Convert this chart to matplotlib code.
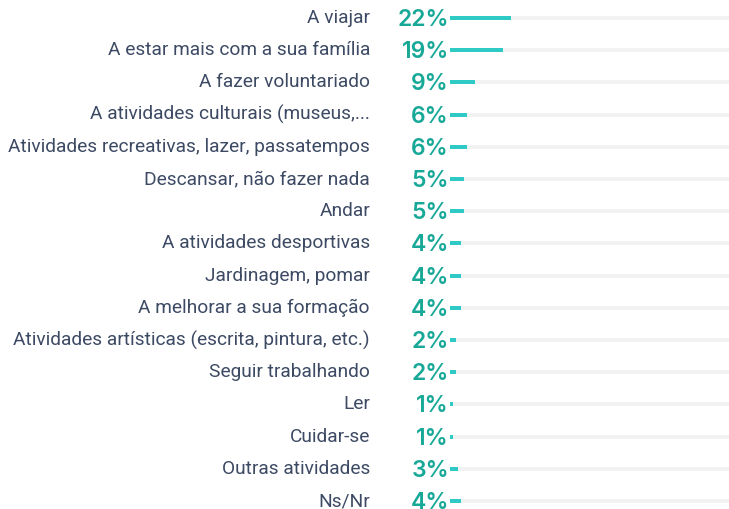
import matplotlib
matplotlib.use('Agg')
import matplotlib.pyplot as plt
import matplotlib.transforms as mtransforms

# atividades e percentagens
categorias = [
    'A viajar',
    'A estar mais com a sua família',
    'A fazer voluntariado',
    'A atividades culturais (museus,...',
    'Atividades recreativas, lazer, passatempos',
    'Descansar, não fazer nada',
    'Andar',
    'A atividades desportivas',
    'Jardinagem, pomar',
    'A melhorar a sua formação',
    'Atividades artísticas (escrita, pintura, etc.)',
    'Seguir trabalhando',
    'Ler',
    'Cuidar-se',
    'Outras atividades',
    'Ns/Nr',
]
valores = [22, 19, 9, 6, 6, 5, 5, 4, 4, 4, 2, 2, 1, 1, 3, 4]

cor_barra = '#2fc9c6'
cor_pct = '#17a898'
cor_texto = '#3d4a64'
cor_fundo = '#f2f2f2'

fig = plt.figure(figsize=(7.29, 5.09), dpi=100)
ax = fig.add_axes([450 / 729, 0, 279 / 729, 1])

n = len(categorias)
ys = list(range(n))
ax.barh(ys, [100] * n, height=0.13, color=cor_fundo, left=0)
ax.barh(ys, valores, height=0.13, color=cor_barra, left=0)

ax.set_xlim(0, 100)
# primeira linha a 18px do topo, 32.2px entre linhas
passo = 32.2
ax.set_ylim((509 - 18) / passo, -18 / passo)
ax.axis('off')

trans = mtransforms.blended_transform_factory(fig.transFigure, ax.transData)
for y, cat, v in zip(ys, categorias, valores):
    ax.text(370 / 729, y, cat, transform=trans, ha='right', va='center',
            fontsize=13.8, color=cor_texto, family='Roboto', fontweight='normal')
    ax.text(449 / 729, y + 0.06, f'{v}%', transform=trans, ha='right', va='center',
            fontsize=16.5, color=cor_pct, family='Inter', fontweight='semibold')

fig.savefig('out.png', dpi=100)
